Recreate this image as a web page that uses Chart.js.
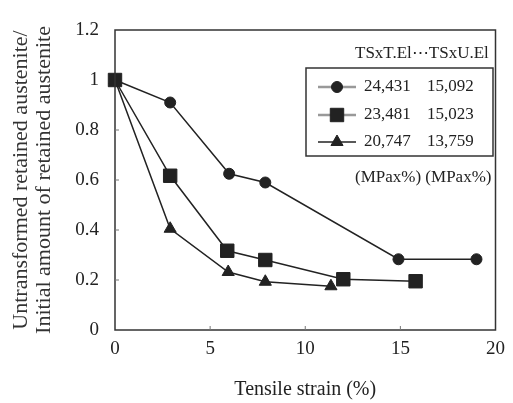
<!DOCTYPE html>
<html>
<head>
<meta charset="utf-8">
<script src="https://cdn.jsdelivr.net/npm/chart.js@4.4.0/dist/chart.umd.min.js"></script>
<style>
  html, body { margin: 0; padding: 0; background: #fff; }
  #wrap { width: 513px; height: 403px; }
</style>
</head>
<body>
<div id="wrap"><canvas id="austenite-chart" width="513" height="403"></canvas></div>
<script>
const strainA = [0, 2.9, 6.0, 7.9, 14.9, 19.0];
const ratioA = [1, 0.91, 0.625, 0.59, 0.283, 0.283];
const strainB = [0, 2.9, 5.9, 7.9, 12.0, 15.8];
const ratioB = [1, 0.617, 0.317, 0.28, 0.203, 0.195];
const strainC = [0, 2.9, 5.95, 7.9, 11.35];
const ratioC = [1, 0.405, 0.232, 0.193, 0.175];

const tsTEl = ['24,431', '23,481', '20,747'];
const tsUEl = ['15,092', '15,023', '13,759'];
const yTickLabels = ['0', '0.2', '0.4', '0.6', '0.8', '1', '1.2'];
const xTickLabels = ['0', '5', '10', '15', '20'];

const ink = '#222';
const serif = "'Liberation Serif', 'Times New Roman', serif";

function toPoints(xs, ys) {
  return xs.map((x, i) => ({ x: x, y: ys[i] }));
}

// frame, inside ticks and the boxed legend
const framePlugin = {
  id: 'frame',
  afterDraw(chart) {
    const ctx = chart.ctx;
    const a = chart.chartArea;
    const xs = chart.scales.x;
    const ys = chart.scales.y;
    ctx.save();
    ctx.strokeStyle = '#333';
    ctx.lineWidth = 1.5;
    ctx.strokeRect(a.left, a.top, a.right - a.left, a.bottom - a.top);
    ctx.lineWidth = 1;
    ctx.strokeStyle = '#777';
    ctx.beginPath();
    [0.2, 0.4, 0.6, 0.8].forEach(v => {
      const py = ys.getPixelForValue(v);
      ctx.moveTo(a.left, py);
      ctx.lineTo(a.left + 4, py);
    });
    [5, 10, 15].forEach(v => {
      const px = xs.getPixelForValue(v);
      ctx.moveTo(px, a.bottom);
      ctx.lineTo(px, a.bottom - 4);
    });
    ctx.stroke();

    // legend
    ctx.fillStyle = ink;
    ctx.font = '17px ' + serif;
    ctx.textBaseline = 'middle';
    ctx.textAlign = 'left';
    ctx.fillText('TSxT.El\u22efTSxU.El', 355, 54);
    ctx.fillText('(MPax%) (MPax%)', 355, 178);

    ctx.strokeStyle = '#333';
    ctx.lineWidth = 1.5;
    ctx.strokeRect(306, 68, 187, 88);

    const rows = [87, 115, 142];
    chart.data.datasets.forEach((ds, i) => {
      const y = rows[i];
      ctx.strokeStyle = i < 2 ? '#999' : ink;
      ctx.lineWidth = i < 2 ? 2.5 : 1.5;
      ctx.beginPath();
      ctx.moveTo(318, y);
      ctx.lineTo(356, y);
      ctx.stroke();
      ctx.fillStyle = ink;
      ctx.strokeStyle = ink;
      ctx.lineWidth = 1;
      Chart.helpers.drawPoint(ctx, {
        pointStyle: ds.pointStyle,
        radius: ds.pointRadius,
        rotation: 0,
        borderWidth: 1
      }, 337, y);
      ctx.fillStyle = ink;
      ctx.fillText(tsTEl[i], 364, y);
      ctx.fillText(tsUEl[i], 427, y);
    });
    ctx.restore();
  }
};

const lineStyle = {
  borderColor: ink,
  backgroundColor: ink,
  pointBorderColor: ink,
  pointBackgroundColor: ink,
  borderWidth: 1.5,
  pointBorderWidth: 1,
  tension: 0,
  clip: false
};

new Chart(document.getElementById('austenite-chart'), {
  type: 'scatter',
  data: {
    datasets: [
      Object.assign({ label: '24,431 15,092', data: toPoints(strainA, ratioA), showLine: true, pointStyle: 'circle', pointRadius: 5.5, order: 1 }, lineStyle),
      Object.assign({ label: '23,481 15,023', data: toPoints(strainB, ratioB), showLine: true, pointStyle: 'rect', pointRadius: 9.5, order: 0 }, lineStyle),
      Object.assign({ label: '20,747 13,759', data: toPoints(strainC, ratioC), showLine: true, pointStyle: 'triangle', pointRadius: 7, order: 2 }, lineStyle)
    ]
  },
  options: {
    responsive: false,
    animation: false,
    layout: { padding: { left: 0, top: 30, right: 7, bottom: 0 } },
    plugins: {
      legend: { display: false },
      tooltip: { enabled: false }
    },
    scales: {
      x: {
        type: 'linear',
        min: 0,
        max: 20,
        afterFit(scale) { scale.height = 73; },
        afterBuildTicks(scale) { scale.ticks = xTickLabels.map(t => ({ value: Number(t) })); },
        ticks: {
          autoSkip: false,
          maxRotation: 0,
          padding: 8,
          color: ink,
          font: { family: serif, size: 19 },
          callback: (v, i) => xTickLabels[i]
        },
        grid: { display: false, drawTicks: false },
        border: { display: false },
        title: {
          display: true,
          text: 'Tensile strain (%)',
          color: ink,
          font: { family: serif, size: 20 },
          padding: { top: 0, bottom: 1 }
        }
      },
      y: {
        type: 'linear',
        min: 0,
        max: 1.2,
        afterFit(scale) { scale.width = 115; },
        afterBuildTicks(scale) { scale.ticks = yTickLabels.map(t => ({ value: Number(t) })); },
        ticks: {
          autoSkip: false,
          padding: 16,
          color: ink,
          font: { family: serif, size: 19 },
          callback: (v, i) => yTickLabels[i]
        },
        grid: { display: false, drawTicks: false },
        border: { display: false },
        title: {
          display: true,
          text: ['Untransformed retained austenite/', 'Initial amount of retained austenite'],
          color: '#333',
          font: { family: serif, size: 22, lineHeight: 1.05 },
          padding: { top: 10, bottom: 0 }
        }
      }
    }
  },
  plugins: [framePlugin]
});
</script>
</body>
</html>
